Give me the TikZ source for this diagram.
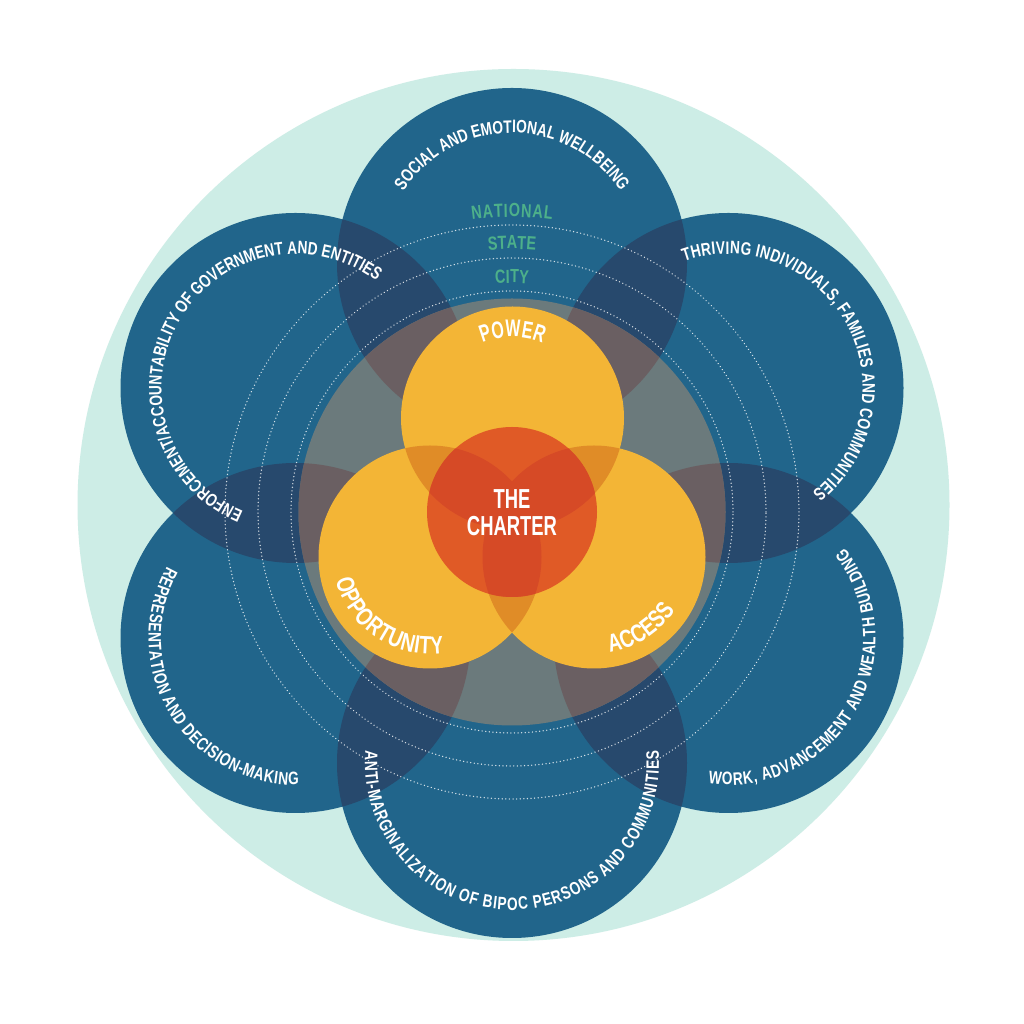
\documentclass[tikz,border=0pt]{standalone}
\usepackage{fontspec}
\usetikzlibrary{decorations.text}
\newfontfamily\lsE[FakeStretch=0.76]{Liberation Sans}
\newfontfamily\lsH[FakeStretch=0.67]{Liberation Sans}
\newcommand{\fs}{\lsE\bfseries\fontsize{18}{20}\selectfont}
\newcommand{\fg}{\lsE\bfseries\fontsize{19}{21}\selectfont}
\newcommand{\fy}{\lsE\bfseries\fontsize{25}{26}\selectfont}
\newcommand{\fp}{\lsH\bfseries\fontsize{24}{26}\selectfont}
\newcommand{\hugefont}{\lsH\bfseries\fontsize{27.5}{27}\selectfont}
\definecolor{mint}{HTML}{CDEDE6}
\definecolor{blue1}{HTML}{21658B}
\definecolor{blue2}{HTML}{27496D}
\definecolor{gray1}{HTML}{6B7A7C}
\definecolor{gray2}{HTML}{6A5F62}
\definecolor{yel1}{HTML}{F3B536}
\definecolor{yel2}{HTML}{E08C27}
\definecolor{red1}{HTML}{E05A26}
\definecolor{red2}{HTML}{D64A26}
\definecolor{green1}{HTML}{4DB08A}
\tikzset{
  arctext/.style n args={4}{decorate,decoration={text effects along path,text={#4},text align=center,
     text effects/.cd,
     character widths={inner xsep=#3,font=#1},
     characters={text along path,font=#1,text=#2,inner xsep=#3}}},
  ringline/.style={white,line width=1.4pt,line cap=round,dash pattern=on 0.1pt off 3.5pt,opacity=0.8}
}
% centre x, centre y, radius, start, end, font, colour, tracking, text
\newcommand{\arclabel}[9]{\path[arctext={#6}{#7}{#8}{#9}] (#1,#2) ++(#4:#3pt) arc[start angle=#4,end angle=#5,radius=#3pt];}
\begin{document}
\begin{tikzpicture}[x=1pt,y=1pt]
\useasboundingbox (0,0) rectangle (1024,1024);
\fill[white] (0,0) rectangle (1024,1024);
\fill[mint] (513.5,519) circle[radius=436pt];
% petal centres
\coordinate (b1) at (512,761);
\coordinate (b2) at (728.5,636);
\coordinate (b3) at (728.5,386);
\coordinate (b4) at (512,261);
\coordinate (b5) at (295.5,386);
\coordinate (b6) at (295.5,636);
\coordinate (hub) at (512,512);
\coordinate (yt) at (512.5,606);
\coordinate (yl) at (430,467);
\coordinate (yr) at (594,467);
\foreach \p in {b1,b2,b3,b4,b5,b6}{\fill[blue1] (\p) circle[radius=175pt];}
\foreach \p/\q in {b1/b2,b2/b3,b3/b4,b4/b5,b5/b6,b6/b1}{
  \begin{scope}\clip (\p) circle[radius=175pt];\fill[blue2] (\q) circle[radius=175pt];\end{scope}
}
\fill[gray1] (hub) circle[radius=213.5pt];
\foreach \p/\q in {b1/b2,b2/b3,b3/b4,b4/b5,b5/b6,b6/b1}{
  \begin{scope}\clip (hub) circle[radius=213.5pt];\clip (\p) circle[radius=175pt];\fill[gray2] (\q) circle[radius=175pt];\end{scope}
}
\foreach \r in {221,254,287}{\draw[ringline] (hub) circle[radius=\r pt];}
\foreach \p in {yt,yl,yr}{\fill[yel1] (\p) circle[radius=111.5pt];}
\foreach \p/\q in {yt/yl,yl/yr,yr/yt}{
  \begin{scope}\clip (\p) circle[radius=111.5pt];\fill[yel2] (\q) circle[radius=111.5pt];\end{scope}
}
\fill[red1] (hub) circle[radius=85pt];
\foreach \p/\q in {yt/yl,yl/yr,yr/yt}{
  \begin{scope}\clip (hub) circle[radius=85pt];\clip (\p) circle[radius=111.5pt];\fill[red2] (\q) circle[radius=111.5pt];\end{scope}
}
\node[text=white,align=center,font=\hugefont,inner sep=0pt] (charter) at (512,511) {THE\\CHARTER};
% outer labels
\arclabel{512}{761}{130}{175}{5}{\fs}{white}{0pt}{SOCIAL AND EMOTIONAL WELLBEING}
\arclabel{728.5}{636}{134}{134}{-76}{\fs}{white}{0.15pt}{THRIVING INDIVIDUALS, FAMILIES AND COMMUNITIES}
\arclabel{295.5}{636}{134}{262}{38}{\fs}{white}{0pt}{ENFORCEMENT/ACCOUNTABILITY OF GOVERNMENT AND ENTITIES}
\arclabel{295.5}{386}{147}{126}{296}{\fs}{white}{0.3pt}{REPRESENTATION AND DECISION-MAKING}
\arclabel{512}{261}{147}{160}{380}{\fs}{white}{0.45pt}{ANTI-MARGINALIZATION OF BIPOC PERSONS AND COMMUNITIES}
\arclabel{728.5}{386}{147}{245}{415}{\fs}{white}{0.35pt}{WORK, ADVANCEMENT AND WEALTH BUILDING}
% ring labels
\arclabel{512}{512}{295}{110}{70}{\fg}{green1}{0.4pt}{NATIONAL}
\arclabel{512}{512}{263}{110}{70}{\fg}{green1}{0pt}{STATE}
\arclabel{512}{512}{229}{110}{70}{\fg}{green1}{0.05pt}{CITY}
% yellow labels
\arclabel{512.5}{606}{81}{150}{30}{\fp}{white}{0.1pt}{POWER}
\arclabel{430}{467}{97}{161}{311}{\fy}{white}{0.3pt}{OPPORTUNITY}
\arclabel{594}{467}{97}{243}{363}{\fy}{white}{0.1pt}{ACCESS}
\end{tikzpicture}
\end{document}
